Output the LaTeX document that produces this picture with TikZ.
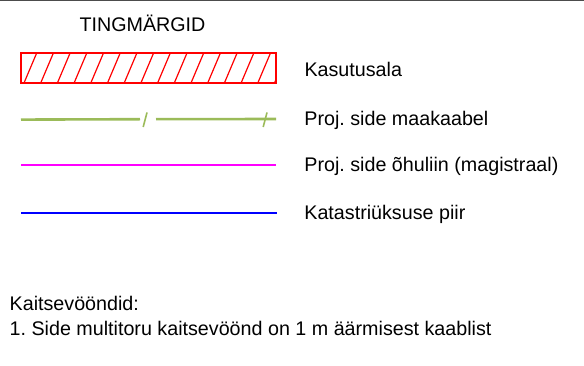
\documentclass[tikz,border=0pt]{standalone}
\usepackage{fontspec}
\setmainfont{Liberation Sans}
\frenchspacing
\definecolor{cablegreen}{HTML}{9BBB59}
\definecolor{airmagenta}{RGB}{255,0,255}
\definecolor{plotblue}{RGB}{0,0,255}
\begin{document}
\begin{tikzpicture}[x=1pt,y=-1pt,
   legendtext/.style={anchor=base west,inner sep=0pt,font=\fontsize{19.7}{24}\selectfont},
   cable/.style={cablegreen,line width=2.6pt},
   cabletick/.style={cablegreen,line width=1.6pt}]
   \useasboundingbox (0,0) rectangle (584,366);
   \draw[black!70,line width=1.2pt] (0,0.6) -- (584,0.6);
   \node[legendtext,anchor=base] (title) at (142.5,31.5) {TINGMÄRGID};
   % kasutusala
   \begin{scope}
      \clip (21,53) rectangle (276,83);
      \foreach \x in {7.3,24,...,290}
         \draw[red,line width=1.2pt] (\x,83) -- ++(12.7,-30);
   \end{scope}
   \draw[red,line width=1.5pt] (21,53) rectangle (276,83);
   \node[legendtext] (kasutusala) at (304.3,77) {Kasutusala};
   % maakaabel
   \draw[cable] (21,119.6) -- (140,119.2);
   \draw[cable] (156,119.2) -- (276,119);
   \draw[cabletick] (143.2,127) -- (147,112.5);
   \draw[cabletick] (263.2,127) -- (267,112.5);
   \node[legendtext] (maakaabel) at (304.2,126) {Proj. side maakaabel};
   % ohuliin
   \draw[airmagenta,line width=1.5pt] (21,165) -- (276,165);
   \node[legendtext] (ohuliin) at (304.2,172) {Proj. side õhuliin (magistraal)};
   % piir
   \draw[plotblue,line width=1.8pt] (21,212.7) -- (276.5,212.7);
   \node[legendtext] (piir) at (304.2,220) {Katastriüksuse piir};
   % kaitsevoondid
   \node[legendtext] (kaitse) at (9.5,310.5) {Kaitsevööndid:};
   \node[legendtext] (kaitse1) at (9.5,335) {1. Side multitoru kaitsevöönd on 1 m äärmisest kaablist};
\end{tikzpicture}
\end{document}
